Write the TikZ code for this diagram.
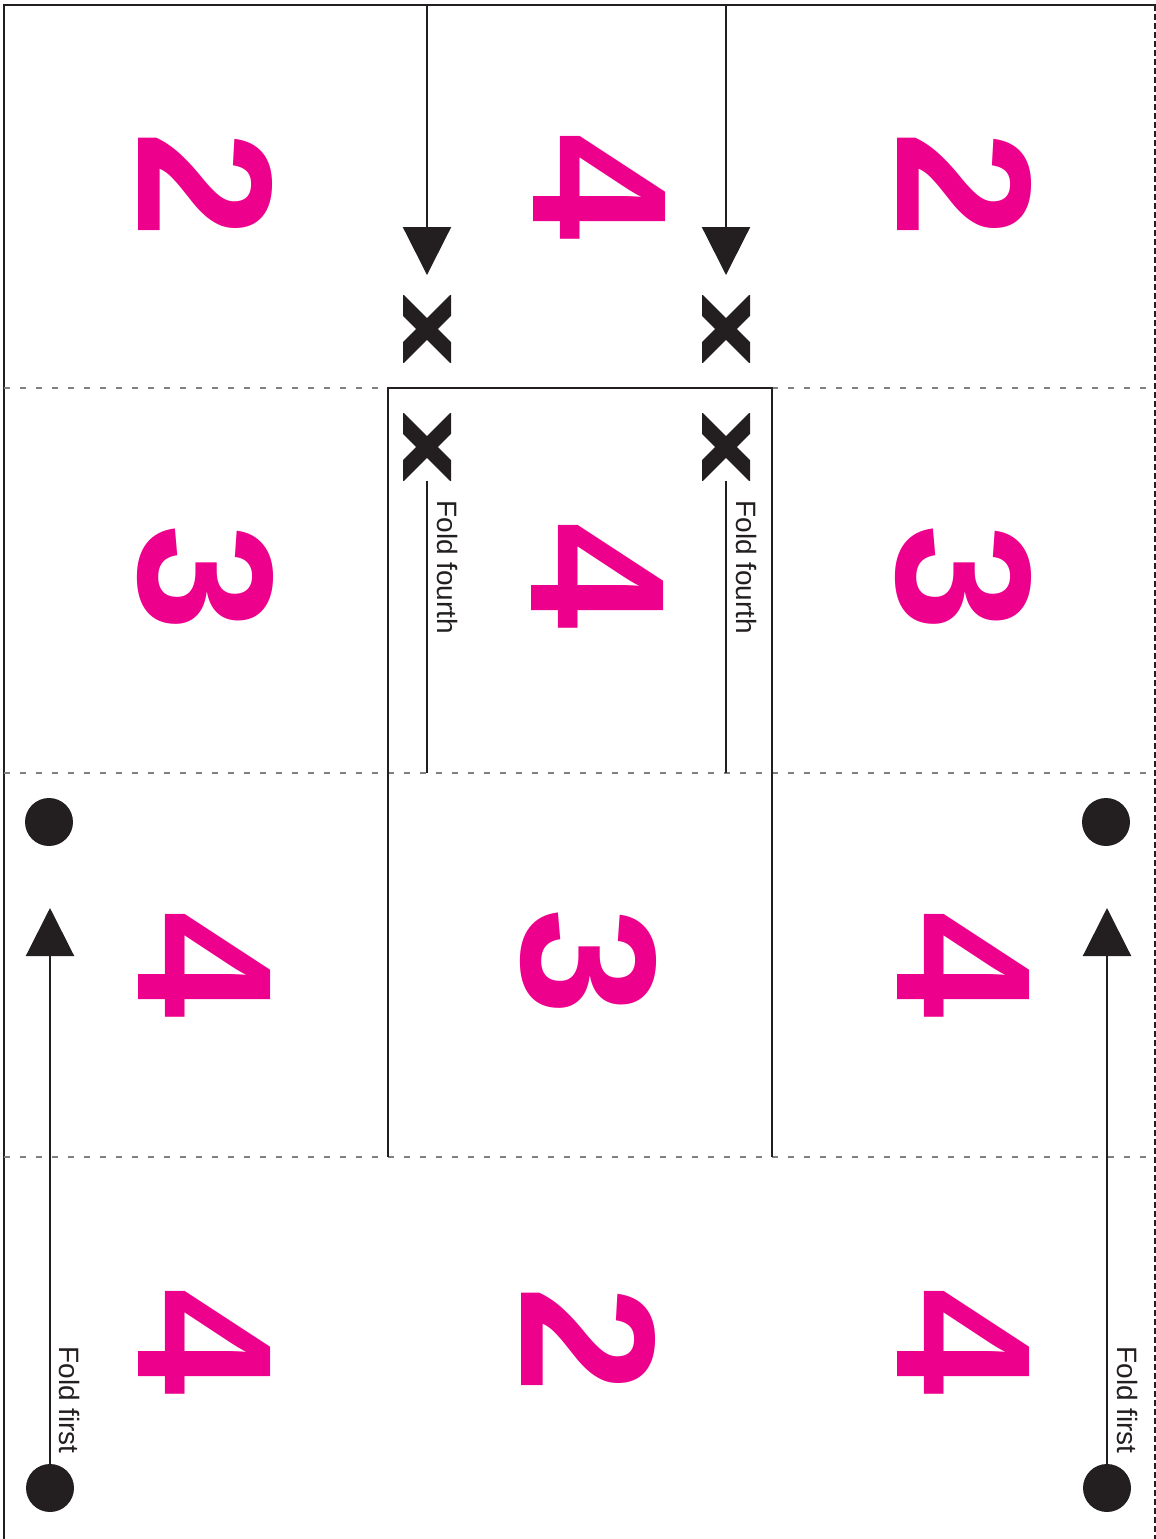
\documentclass[tikz,border=0pt]{standalone}
\usepackage{fontspec}
\setmainfont{Liberation Sans}
\usepackage{xcolor}
\usepackage{tikz}
\usetikzlibrary{arrows.meta}
\definecolor{foldpink}{HTML}{EC008C}
\definecolor{inkblack}{HTML}{231F20}

\begin{document}
\begin{tikzpicture}[x=0.5pt, y=-0.5pt,
  num/.style={text=foldpink, font=\fontsize{96}{96}\selectfont\bfseries, rotate=-90, inner sep=0},
  lbl/.style={text=inkblack, font=\fontsize{14}{14}\selectfont, rotate=-90, inner sep=0, anchor=base west},
  crease/.style={dash pattern=on 3pt off 5pt, line width=1.1pt, gray},
  cut/.style={inkblack, line width=1.1pt},
  arrow/.style={-{Triangle[length=24pt, width=24pt]}, line width=1.1pt, inkblack},
  dot/.style={circle, fill=inkblack, minimum size=24pt, inner sep=0},
  xmark/.style={rectangle, minimum width=24pt, minimum height=33.5pt, inner sep=0,
    path picture={\draw[inkblack, line width=7.75pt]
      ([shift={(-22pt,22pt)}]path picture bounding box.center) -- ([shift={(22pt,-22pt)}]path picture bounding box.center)
      ([shift={(-22pt,-22pt)}]path picture bounding box.center) -- ([shift={(22pt,22pt)}]path picture bounding box.center);}},
]
\useasboundingbox (0,0) rectangle (1156,1539);
\draw[inkblack, line width=1.2pt] (4,1539) -- (4,5) -- (1156,5);
\draw[inkblack, line width=0.6pt, dash pattern=on 3pt off 1.5pt] (1155,5) -- (1155,1539);
\draw[crease] (4,388) -- (1155,388);
\draw[crease] (4,773) -- (1155,773);
\draw[crease] (4,1157) -- (1155,1157);
\draw[cut] (388,1157) -- (388,388) -- (772,388) -- (772,1157);
\node[num] (n11) at (206,185) {2};
\node[num] (n12) at (600,187) {4};
\node[num] (n13) at (965,185) {2};
\node[num] (n21) at (205,578) {3};
\node[num] (n22) at (598,576) {4};
\node[num] (n23) at (963,578) {3};
\node[num] (n31) at (205,965) {4};
\node[num] (n32) at (588,962) {3};
\node[num] (n33) at (964,965) {4};
\node[num] (n41) at (205,1342) {4};
\node[num] (n42) at (589,1340) {2};
\node[num] (n43) at (964,1342) {4};
\coordinate (topl) at (427,5);
\coordinate (tipl) at (427,275);
\coordinate (topr) at (726,5);
\coordinate (tipr) at (726,275);
\node[xmark] (xl1) at (427,329) {};
\node[xmark] (xl2) at (427,447) {};
\node[xmark] (xr1) at (726,329) {};
\node[xmark] (xr2) at (726,447) {};
\coordinate (endl) at (427,773);
\coordinate (endr) at (726,773);
\draw[arrow] (topl) -- (tipl);
\draw[arrow] (topr) -- (tipr);
\draw[cut] (xl2.south) -- (endl);
\draw[cut] (xr2.south) -- (endr);
\node[lbl] (fourl) at (437,500) {Fold fourth};
\node[lbl] (fourr) at (736,500) {Fold fourth};
\node[dot] (dtl) at (49,822) {};
\node[dot] (dbl) at (50,1488) {};
\node[dot] (dtr) at (1106,822) {};
\node[dot] (dbr) at (1107,1488) {};
\coordinate (upl) at (50,908);
\coordinate (upr) at (1107,908);
\draw[arrow] (dbl.center) -- (upl);
\draw[arrow] (dbr.center) -- (upr);
\node[lbl] (firstl) at (59,1346) {Fold first};
\node[lbl] (firstr) at (1117,1346) {Fold first};
\end{tikzpicture}
\end{document}
